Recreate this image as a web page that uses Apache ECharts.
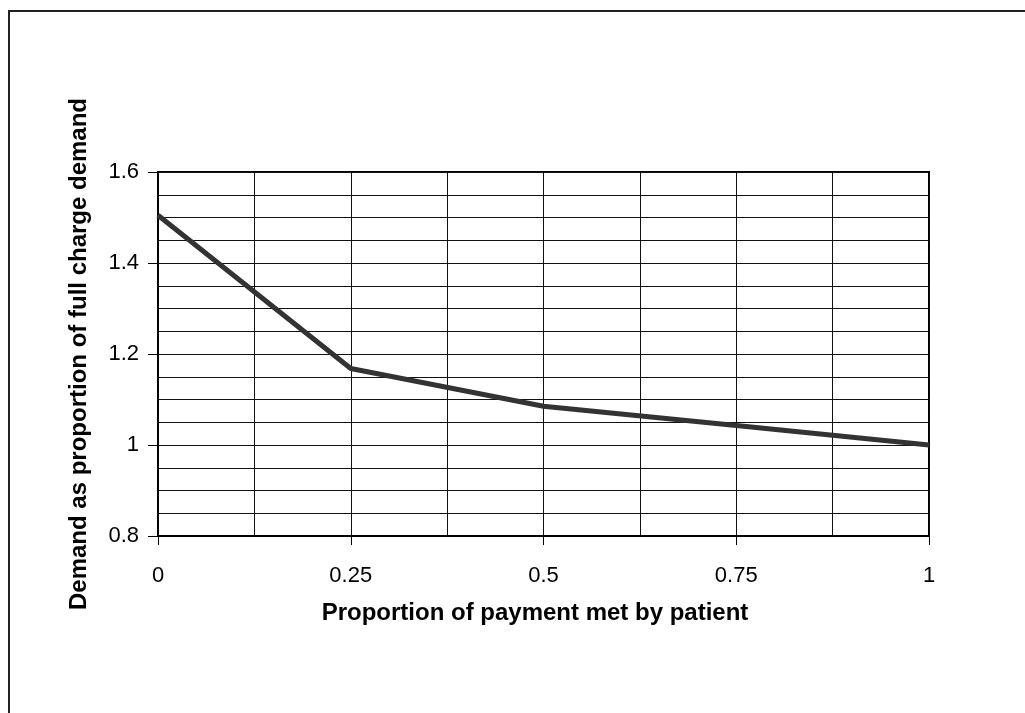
<!DOCTYPE html>
<html>
<head>
<meta charset="utf-8">
<script src="https://cdn.jsdelivr.net/npm/echarts@6/dist/echarts.min.js"></script>
<style>
html,body{margin:0;padding:0;background:#fff;}
#chart{width:1025px;height:713px;}
</style>
</head>
<body>
<div id="chart"></div>
<script>
var xValues = [0, 0.25, 0.5, 0.75, 1];
var demand = [1.505, 1.168, 1.085, 1.043, 1.0];
var xTitle = 'Proportion of payment met by patient';
var yTitle = 'Demand as proportion of full charge demand';

var chart = echarts.init(document.getElementById('chart'), null, {renderer: 'canvas'});
var font = '"Liberation Sans", Arial, sans-serif';
var points = xValues.map(function (x, i) { return [x, demand[i]]; });

chart.setOption({
  animation: false,
  backgroundColor: '#fff',
  graphic: [{
    type: 'rect',
    shape: {x: 9, y: 11, width: 1100, height: 800},
    style: {fill: 'none', stroke: '#222', lineWidth: 2},
    silent: true
  }],
  grid: {
    left: 158, right: 96, top: 172, bottom: 177,
    show: true, borderColor: '#000', borderWidth: 2, backgroundColor: 'transparent'
  },
  xAxis: {
    type: 'value', min: 0, max: 1, interval: 0.25,
    name: xTitle, nameLocation: 'middle', nameGap: 65,
    nameTextStyle: {fontFamily: font, fontSize: 24, fontWeight: 'bold', color: '#000', padding: [0, 17, 0, 0]},
    axisLine: {show: true, lineStyle: {color: '#000', width: 2}},
    axisTick: {show: true, inside: false, length: 9, lineStyle: {color: '#000', width: 1}},
    axisLabel: {fontFamily: font, fontSize: 22, color: '#000', margin: 29,
      formatter: function (v) { return String(+v.toFixed(3)); }},
    splitLine: {show: true, lineStyle: {color: '#111', width: 1}},
    minorTick: {show: false, splitNumber: 2},
    minorSplitLine: {show: true, lineStyle: {color: '#111', width: 1}}
  },
  yAxis: {
    type: 'value', min: 0.8, max: 1.6, interval: 0.2,
    name: yTitle, nameLocation: 'middle', nameGap: 67,
    nameTextStyle: {fontFamily: font, fontSize: 24, fontWeight: 'bold', color: '#000'},
    axisLine: {show: true, lineStyle: {color: '#000', width: 2}},
    axisTick: {show: true, inside: false, length: 10, lineStyle: {color: '#000', width: 1}},
    axisLabel: {fontFamily: font, fontSize: 22, color: '#000', margin: 19,
      formatter: function (v) { return String(+v.toFixed(3)); }},
    splitLine: {show: true, lineStyle: {color: '#111', width: 1}},
    minorTick: {show: false, splitNumber: 4},
    minorSplitLine: {show: true, lineStyle: {color: '#111', width: 1}}
  },
  series: [{
    type: 'line',
    data: points,
    symbol: 'none',
    lineStyle: {color: '#333', width: 5},
    z: 5
  }]
});
</script>
</body>
</html>
